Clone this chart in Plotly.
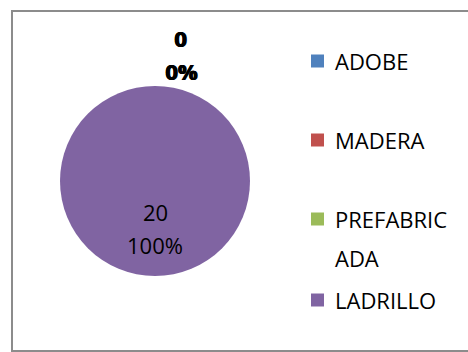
import plotly.graph_objects as go
import math

# Housing material counts
categories = ["ADOBE", "MADERA", "PREFABRICADA", "LADRILLO"]
values = [0, 0, 0, 20]
colors = ["#4F81BD", "#C0504D", "#9BBB59", "#8064A2"]

W, H = 468, 352
FONT = "Open Sans, Calibri, Arial, sans-serif"
FS = 22

# pie geometry in pixels
cx, cy, r = 155, 181, 95


def px(x):
    return x / W


def py(y):
    return 1 - y / H


fig = go.Figure(go.Pie(
    labels=categories,
    values=values,
    marker=dict(colors=colors, line=dict(width=0)),
    textinfo="none",
    sort=False,
    direction="clockwise",
    rotation=0,
    showlegend=False,
    hoverinfo="label+value+percent",
    domain=dict(x=[px(cx - r), px(cx + r)], y=[py(cy + r), py(cy - r)]),
))

annotations = []
total = sum(values)


def text_at(x, y, s, bold=False, anchor="center"):
    annotations.append(dict(
        x=px(x), y=py(y), xref="paper", yref="paper", text=s, showarrow=False,
        xanchor=anchor, yanchor="middle",
        font=dict(family=FONT, size=FS, color="black", weight="bold" if bold else "normal"),
    ))


# data labels: value and percentage per slice
start = 0.0
zero_idx = 0
for cat, v in zip(categories, values):
    frac = v / total
    pct = f"{round(frac * 100)}%"
    if v > 0:
        mid = (start + frac / 2) * 2 * math.pi
        lx = cx + 0.5 * r * math.sin(mid)
        ly = cy - 0.5 * r * math.cos(mid)
        text_at(lx, ly - 17, str(v))
        text_at(lx, ly + 17, pct)
    else:
        # zero slices sit at the top, labels stacked outside the rim
        off = zero_idx * 0.6
        text_at(180 + off, 38, str(v), bold=True)
        text_at(181 + off, 71, pct, bold=True)
        zero_idx += 1
    start += frac

# legend drawn beside the pie
shapes = []
rows_y = [61, 140, 219, 300]
wrap = 9
for cat, col, yy in zip(categories, colors, rows_y):
    shapes.append(dict(type="rect", xref="paper", yref="paper",
                       x0=px(311), x1=px(324), y0=py(yy + 6.5), y1=py(yy - 6.5),
                       fillcolor=col, line=dict(width=0)))
    lines = [cat[i:i + wrap] for i in range(0, len(cat), wrap)]
    for k, ln in enumerate(lines):
        text_at(333, yy + k * 39, ln, anchor="left")

# chart border (left, top, bottom)
border = dict(color="#8C8C8C", width=2)
shapes.append(dict(type="line", xref="paper", yref="paper", x0=px(12), x1=px(12),
                   y0=py(10), y1=py(351), line=border))
shapes.append(dict(type="line", xref="paper", yref="paper", x0=px(11), x1=px(470),
                   y0=py(11), y1=py(11), line=border))
shapes.append(dict(type="line", xref="paper", yref="paper", x0=px(11), x1=px(470),
                   y0=py(351), y1=py(351), line=border))

fig.update_layout(
    width=W, height=H,
    margin=dict(l=0, r=0, t=0, b=0),
    paper_bgcolor="white",
    plot_bgcolor="white",
    annotations=annotations,
    shapes=shapes,
)

fig.write_html("out.html")
